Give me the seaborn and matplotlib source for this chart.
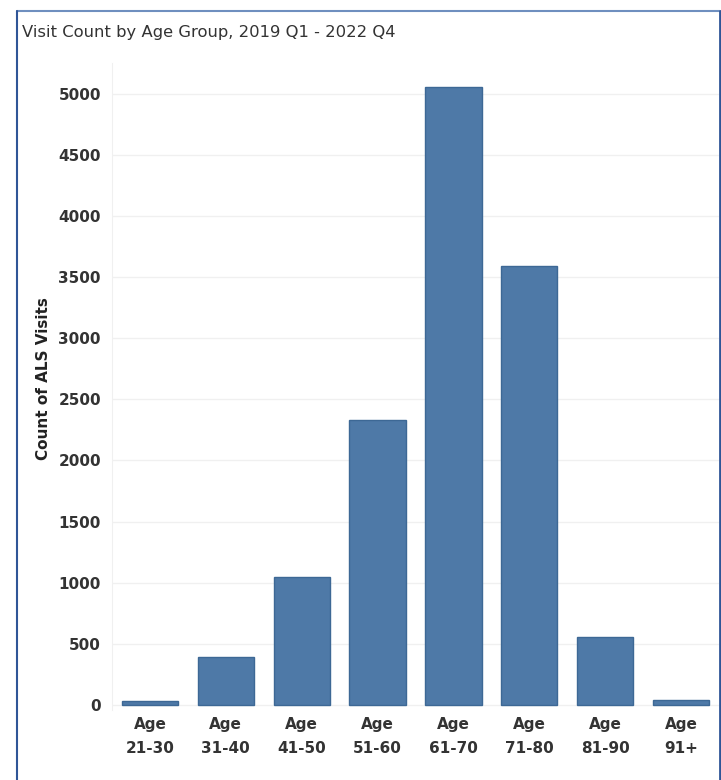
#! /usr/bin/env python3

import pandas as pd
import matplotlib.pyplot as plt
from matplotlib.lines import Line2D
import seaborn as sns

# values
age_groups = ['Age\n21-30', 'Age\n31-40', 'Age\n41-50', 'Age\n51-60',
              'Age\n61-70', 'Age\n71-80', 'Age\n81-90', 'Age\n91+']
visit_counts = [30, 390, 1045, 2330, 5055, 3590, 560, 40]
y_ticks = list(range(0, 5001, 500))

BAR_COLOR = '#4E79A7'
TEXT_COLOR = '#333333'


def build_frame() -> pd.DataFrame:
    return pd.DataFrame({'group': age_groups, 'visits': visit_counts})


def plot(data: pd.DataFrame):
    fig = plt.figure(figsize=(7.21, 7.8), dpi=100)
    ax = fig.add_axes([112 / 721, 70 / 780, 607 / 721, 647 / 780])

    sns.barplot(x='group', y='visits', data=data, order=age_groups,
                color=BAR_COLOR, saturation=1, width=0.74,
                edgecolor='#3D6895', linewidth=1, ax=ax)

    ax.set_xlim(-0.5, 7.5)
    ax.set_ylim(-41, 5250)
    ax.set_yticks(y_ticks)
    ax.set_yticklabels([str(t) for t in y_ticks])
    ax.yaxis.grid(True, color='#f0f0f0', linewidth=1)
    ax.set_axisbelow(True)
    for side in ['top', 'right', 'bottom']:
        ax.spines[side].set_visible(False)
    ax.spines['left'].set_color('#f0f0f0')
    ax.tick_params(axis='both', length=0, colors=TEXT_COLOR)
    ax.tick_params(axis='y', pad=8)
    ax.tick_params(axis='x', pad=5)
    for lbl in ax.get_xticklabels() + ax.get_yticklabels():
        lbl.set_fontsize(11)
        lbl.set_fontweight('bold')
    for lbl in ax.get_xticklabels():
        lbl.set_linespacing(1.75)

    ax.set_xlabel('')
    ax.set_ylabel('Count of ALS Visits', fontsize=11, fontweight='bold',
                  color='#222222')
    ax.yaxis.set_label_coords(-0.100, 0.513)

    fig.text(22 / 721, 1 - 32 / 780,
             'Visit Count by Age Group, 2019 Q1 - 2022 Q4',
             fontsize=11.8, color=TEXT_COLOR, ha='left', va='center')

    # dashboard frame
    x0, x1 = 16.5 / 721, 719.5 / 721
    y1 = 1 - 10.5 / 780
    fig.add_artist(Line2D([x0, x1], [y1, y1], color='#6F8FBF', lw=1.5))
    fig.add_artist(Line2D([x0, x0], [0, y1], color='#2F5597', lw=1.5))
    fig.add_artist(Line2D([x1, x1], [0, y1], color='#2F5597', lw=2))
    return fig


if __name__ == '__main__':
    sns.set_style('white')
    plt.rcParams['font.family'] = ['DejaVu Sans']

    fig = plot(build_frame())
    fig.savefig('out.png', dpi=100)
